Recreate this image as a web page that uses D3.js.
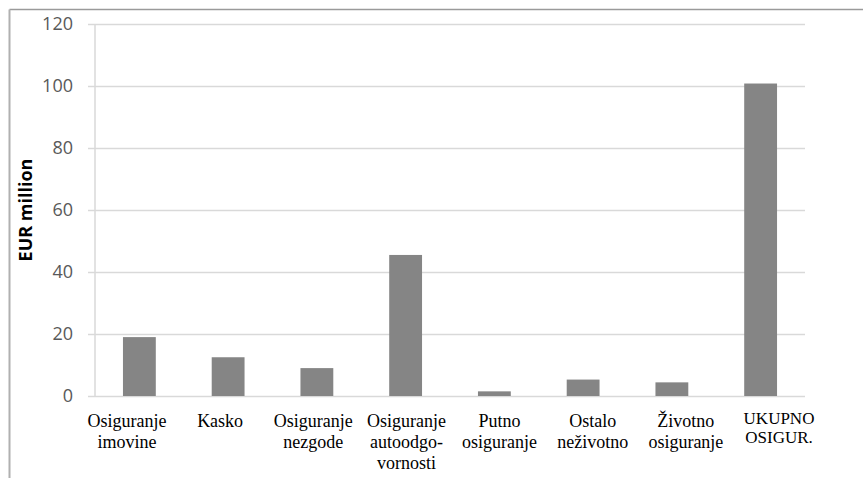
<!DOCTYPE html>
<html>
<head>
<meta charset="utf-8">
<script src="https://cdn.jsdelivr.net/npm/d3@7"></script>
<style>
  html, body { margin: 0; padding: 0; background: #fff; }
  svg { display: block; }
</style>
</head>
<body>
<svg id="chart" width="863" height="478"></svg>
<script>
// ---- data ----
const categories = [
  "Osiguranje imovine", "Kasko", "Osiguranje nezgode",
  "Osiguranje autoodgovornosti", "Putno osiguranje", "Ostalo neživotno",
  "Životno osiguranje", "UKUPNO OSIGUR."
];
const labelLines = [
  ["Osiguranje", "imovine"],
  ["Kasko"],
  ["Osiguranje", "nezgode"],
  ["Osiguranje", "autoodgo-", "vornosti"],
  ["Putno", "osiguranje"],
  ["Ostalo", "neživotno"],
  ["Životno", "osiguranje"],
  ["UKUPNO", "OSIGUR."]
];
const values = [19, 12.5, 9, 45.5, 1.5, 5.3, 4.4, 100.8];
const yTicks = [0, 20, 40, 60, 80, 100, 120];
const yTitle = "EUR million";

// ---- layout ----
const svg = d3.select("#chart");
const W = 863, H = 478;
const plot = { left: 95, right: 805, top: 24, bottom: 396 };
const serif = "'Liberation Serif', 'DejaVu Serif', serif";

// frame lines
svg.append("line").attr("x1", 9.5).attr("x2", W).attr("y1", 9.5).attr("y2", 9.5)
  .attr("stroke", "#9a9a9a").attr("stroke-width", 1.5);
svg.append("line").attr("x1", 9.5).attr("x2", 9.5).attr("y1", 9.5).attr("y2", H)
  .attr("stroke", "#b0b0b0").attr("stroke-width", 2);

const x = d3.scaleBand().domain(categories)
  .range([plot.left, plot.right]).paddingInner(0.63).paddingOuter(0.315);
const y = d3.scaleLinear().domain([0, 120]).range([plot.bottom, plot.top]);

// gridlines via axis
const yAxis = d3.axisLeft(y).tickValues(yTicks)
  .tickSize(-(plot.right - plot.left) - 7).tickFormat(d3.format("d"));
const gy = svg.append("g").attr("transform", `translate(${plot.right},0)`);
gy.call(yAxis);
gy.select(".domain").remove();
gy.selectAll(".tick line").attr("stroke", "#d9d9d9").attr("stroke-width", 1.5)
  .attr("x1", 0).attr("x2", -(plot.right - plot.left) - 7);
gy.selectAll(".tick text").remove();

// tick labels
svg.append("g").selectAll("text").data(yTicks).join("text")
  .attr("x", 73).attr("y", d => y(d)).attr("dy", "0.36em")
  .attr("text-anchor", "end")
  .style("font-family", "'Open Sans', sans-serif").style("font-size", "18px")
  .attr("fill", "#595959").text(d => d);

// vertical axis line
svg.append("line").attr("x1", plot.left).attr("x2", plot.left)
  .attr("y1", y(120)).attr("y2", y(0))
  .attr("stroke", "#d9d9d9").attr("stroke-width", 1.5);

// bars
svg.append("g").selectAll("rect").data(values).join("rect")
  .attr("x", (d, i) => x(categories[i]))
  .attr("width", x.bandwidth())
  .attr("y", d => y(d))
  .attr("height", d => y(0) - y(d))
  .attr("fill", "#858585");

// y title
svg.append("text")
  .attr("transform", `translate(32,${(plot.top + plot.bottom) / 2}) rotate(-90)`)
  .attr("text-anchor", "middle")
  .style("font-family", "'Open Sans', sans-serif").style("font-weight", "bold")
  .style("font-size", "18px").attr("fill", "#000").text(yTitle);

// category labels (table cells)
const xl = d3.scaleBand().domain(categories).range([86, 820]).paddingInner(0.12).paddingOuter(0);
const defs = svg.append("defs");
categories.forEach((c, i) => {
  defs.append("clipPath").attr("id", "clip" + i).append("rect")
    .attr("x", xl(c)).attr("y", 400).attr("width", xl.bandwidth()).attr("height", 78);
});
const lg = svg.append("g");
categories.forEach((c, i) => {
  const g = lg.append("g").attr("clip-path", `url(#clip${i})`);
  const tight = i === categories.length - 1;
  labelLines[i].forEach((ln, k) => {
    const t = g.append("text")
      .attr("y", (tight ? 424 : 427) + k * (tight ? 19 : 21))
      .style("font-family", serif)
      .style("font-size", (tight ? 17 : 18) + "px").attr("fill", "#000").text(ln);
    const w = t.node().getComputedTextLength();
    if (w > xl.bandwidth()) {
      t.attr("x", xl(c)).attr("text-anchor", "start");
    } else {
      t.attr("x", xl(c) + xl.bandwidth() / 2).attr("text-anchor", "middle");
    }
  });
});
</script>
</body>
</html>
